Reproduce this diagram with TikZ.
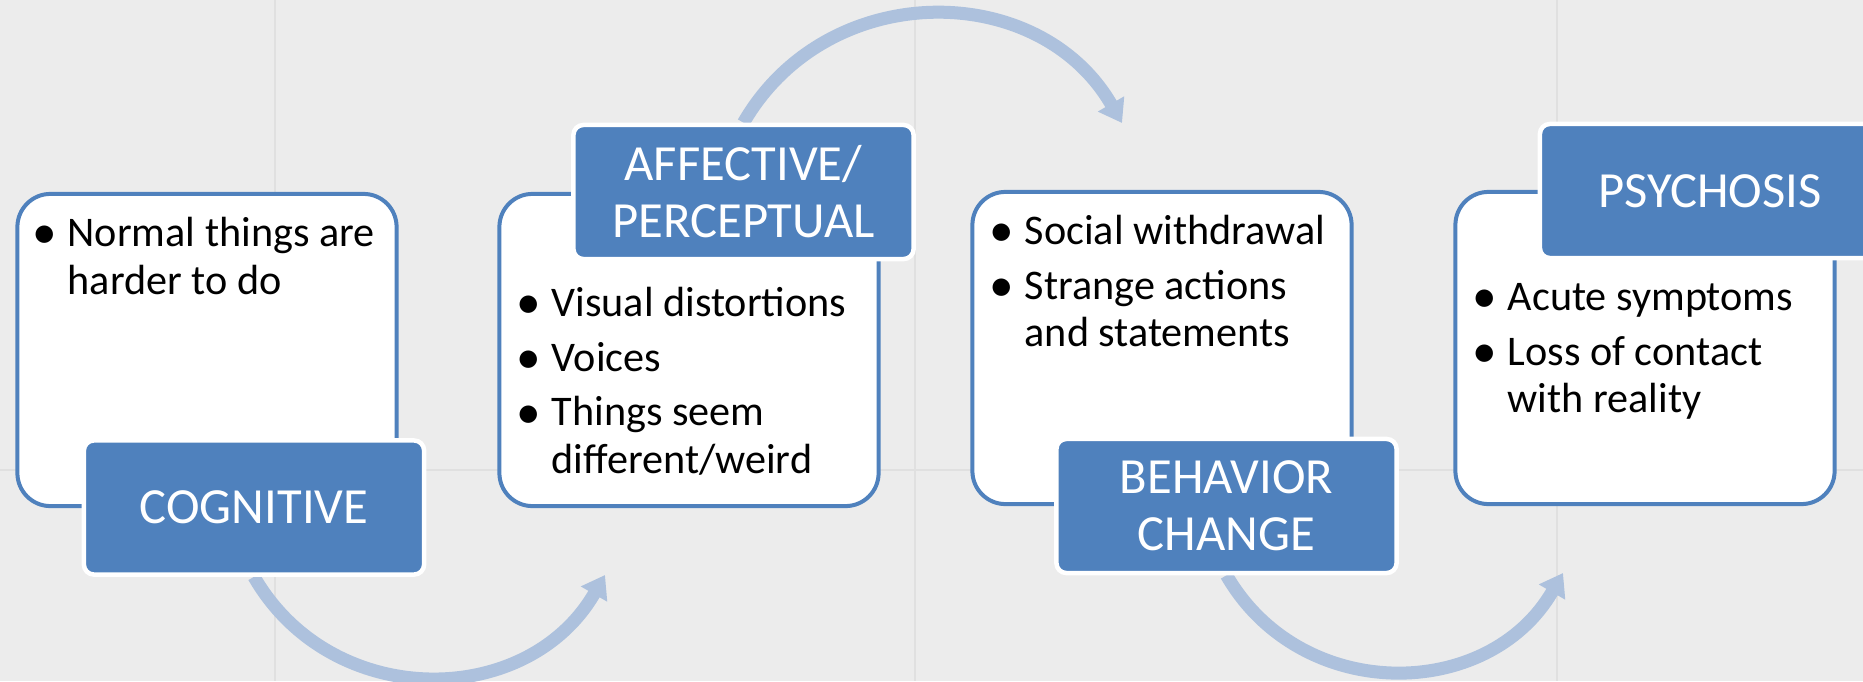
\documentclass[tikz,border=0pt]{standalone}
\usepackage{fontspec}
\setmainfont{Carlito}
\usetikzlibrary{arrows.meta}

\pgfdeclarelayer{back}
\pgfsetlayers{back,main}

\definecolor{hdblue}{RGB}{79,129,189}
\definecolor{arcblue}{RGB}{173,193,221}
\definecolor{paper}{RGB}{236,236,236}
\definecolor{paperline}{RGB}{224,224,224}

\newcommand{\bul}{\makebox[0.35cm][l]{\raisebox{-0.6pt}{\fontsize{14pt}{0pt}\selectfont\textbullet}}}
\newcommand{\ind}{\hspace*{0.35cm}}

\tikzset{
  card/.style={draw=hdblue, line width=0.04cm, fill=white, rounded corners=0.33cm,
    minimum width=3.79cm, minimum height=3.12cm},
  tag/.style={draw=white, line width=0.045cm, fill=hdblue, rounded corners=0.1cm,
    minimum width=3.4cm, minimum height=1.34cm, text=white, align=center,
    font=\fontsize{14.4pt}{16.2pt}\selectfont},
  items/.style={anchor=north west, inner sep=0pt, align=left,
    font=\fontsize{12pt}{13.6pt}\selectfont},
  flow/.style={draw=arcblue, line width=0.13cm, -{Triangle[length=0.22cm,width=0.29cm]}},
}

\begin{document}
\begin{tikzpicture}[x=0.01cm, y=0.01cm]
  \useasboundingbox (0,0) rectangle (1863,681);
  % white cards
  \node[card] (b1) at (207,331) {};
  \node[card] (b2) at (689,331) {};
  \node[card] (b3) at (1162,333) {};
  \node[card] (b4) at (1645,333) {};
  % bullet lists
  \node[items] (l1) at (32,469) {\bul\strut Normal things are\\\ind harder to do};
  \node[items] (l2) at (516,399) {\bul\strut Visual distortions\\[2pt]\bul Voices\\[2pt]\bul Things seem\\\ind different/weird};
  \node[items] (l3) at (989,471) {\bul\strut Social withdrawal\\[2pt]\bul Strange actions\\\ind and statements};
  \node[items] (l4) at (1472,405) {\bul\strut Acute symptoms\\[2pt]\bul Loss of contact\\\ind with reality};
  % blue tags
  \node[tag] (cog) at (254,173.5) {COGNITIVE};
  \node[tag] (aff) at (743.5,489) {AFFECTIVE/\\PERCEPTUAL};
  \node[tag] (beh) at (1226.5,175) {BEHAVIOR\\CHANGE};
  \node[tag] (psy) at (1710,490) {PSYCHOSIS};
  % arrow ends
  \coordinate (t1) at (605,106);
  \coordinate (t2) at (1122,558);
  \coordinate (t3) at (1563,108);
  \begin{pgfonlayer}{back}
    \fill[paper] (0,0) rectangle (1863,681);
    \foreach \gx in {275,915,1557}
      \draw[paperline, line width=0.02cm] (\gx,0) -- (\gx,681);
    \draw[paperline, line width=0.02cm] (0,211) -- (1863,211);
    % curved arrows
    \draw[flow] (cog.south) to[out=-60,in=-120,looseness=1.13] (t1);
    \draw[flow] (aff.north) to[out=60,in=120,looseness=1.13] (t2);
    \draw[flow] (beh.south) to[out=-60,in=-120,looseness=1.13] (t3);
  \end{pgfonlayer}
\end{tikzpicture}
\end{document}
